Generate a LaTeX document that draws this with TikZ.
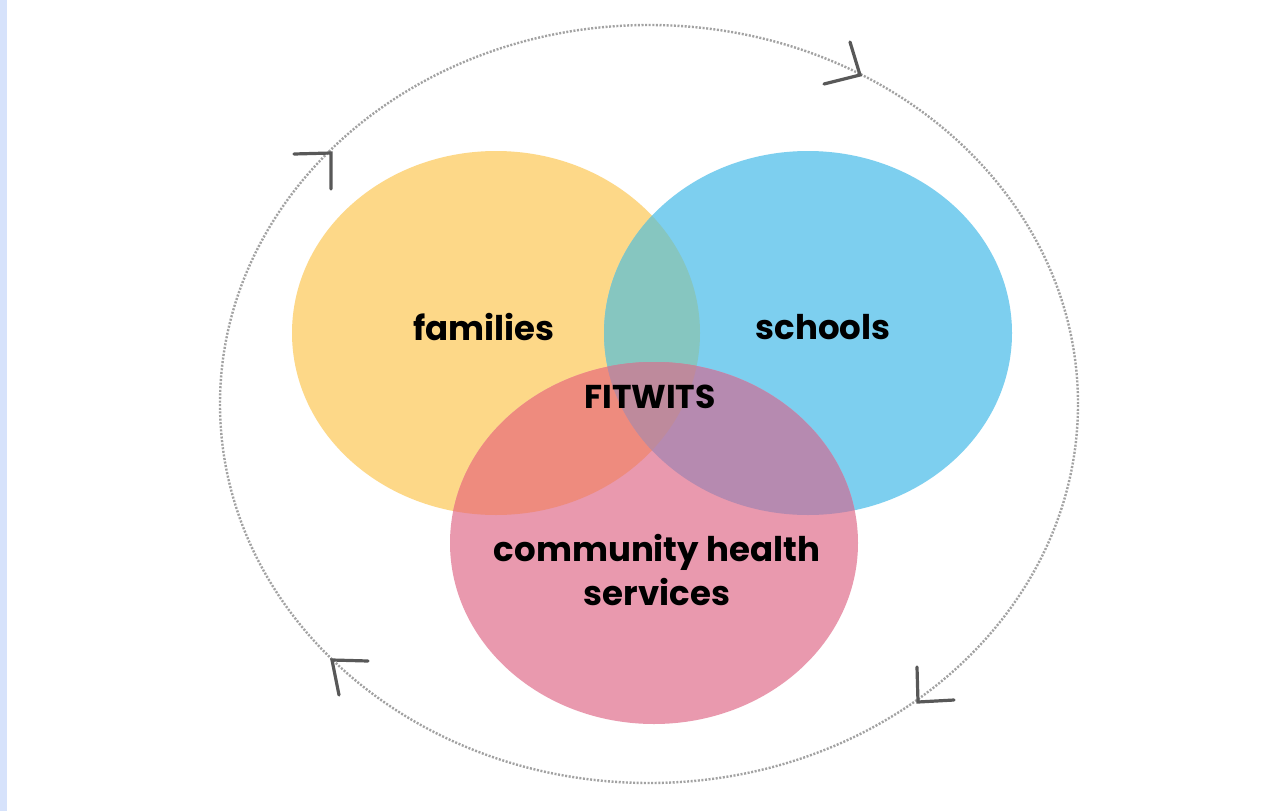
\documentclass[tikz,border=0pt]{standalone}
\usepackage{fontspec}
\newfontfamily\vennfont{Poppins}
\definecolor{stripblue}{HTML}{D6E2FB}
\definecolor{famyellow}{HTML}{FDD888}
\definecolor{schblue}{HTML}{7DCFEF}
\definecolor{compink}{HTML}{E999AE}
\definecolor{ybmix}{HTML}{86C6C0}
\definecolor{ypmix}{HTML}{EE8B7E}
\definecolor{bpmix}{HTML}{B68AB0}
\definecolor{ybpmix}{HTML}{BE8A9C}
\definecolor{ringgray}{HTML}{A2A2A2}
\definecolor{tipgray}{HTML}{585858}
\begin{document}
\begin{tikzpicture}[x=1pt,y=-1pt,
  label/.style={font=\vennfont\bfseries\fontsize{34}{44}\selectfont, text=black, align=center, inner sep=0pt},
  ring/.style={draw=ringgray, line width=2.4pt, dash pattern=on 2pt off 1.6pt},
  chevron/.style={draw=tipgray, line width=3.2pt, line cap=round, line join=miter}]
  % canvas and left edge strip
  \useasboundingbox (0,0) rectangle (1261,811);
  \fill[white] (0,0) rectangle (1261,811);
  \fill[stripblue] (0,0) rectangle (7,811);

  % the three sets
  \def\famset{(496,333) ellipse [x radius=204pt, y radius=182pt]}
  \def\schset{(808,333) ellipse [x radius=204pt, y radius=182pt]}
  \def\comset{(654,543) ellipse [x radius=204pt, y radius=181pt]}
  \fill[famyellow] \famset;
  \fill[schblue] \schset;
  \fill[compink] \comset;
  % pairwise overlaps
  \begin{scope}\clip \famset; \fill[ybmix] \schset; \end{scope}
  \begin{scope}\clip \famset; \fill[ypmix] \comset; \end{scope}
  \begin{scope}\clip \schset; \fill[bpmix] \comset; \end{scope}
  % centre where all three meet
  \begin{scope}\clip \famset; \clip \schset; \fill[ybpmix] \comset; \end{scope}

  % surrounding cycle
  \draw[ring] (649,404) ellipse [x radius=429pt, y radius=379pt];
  \coordinate (tl) at (331,153);
  \coordinate (tr) at (860,75);
  \coordinate (br) at (918,702);
  \coordinate (bl) at (332,660);
  \draw[chevron] (294,154) -- (tl) -- (331,189);
  \draw[chevron] (824,84) -- (tr) -- (850,42);
  \draw[chevron] (917,667) -- (br) -- (954,700);
  \draw[chevron] (368,661) -- (bl) -- (339,695);

  % labels
  \node[label] (families) at (484,327) {families};
  \node[label] (schools) at (823,327) {schools};
  \node[label, font=\vennfont\bfseries\fontsize{33}{42}\selectfont] (fitwits) at (650,397) {FITWITS};
  \node[label] (community) at (657,570) {community health\\services};
\end{tikzpicture}
\end{document}
